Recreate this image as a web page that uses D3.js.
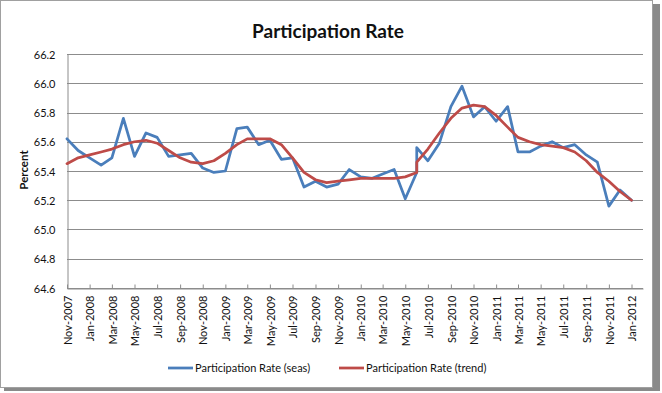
<!DOCTYPE html>
<html>
<head>
<meta charset="utf-8">
<script src="https://cdn.jsdelivr.net/npm/d3@7"></script>
<style>
  body { margin: 0; background: #fff; }
  text { font-family: Lato, "Open Sans", sans-serif; fill: #111; }
</style>
</head>
<body>
<svg width="662" height="393"></svg>
<script>
// months, Jun-2010 appears twice (series break)
var months = [
  "Nov-2007","Dec-2007","Jan-2008","Feb-2008","Mar-2008","Apr-2008","May-2008","Jun-2008",
  "Jul-2008","Aug-2008","Sep-2008","Oct-2008","Nov-2008","Dec-2008","Jan-2009","Feb-2009",
  "Mar-2009","Apr-2009","May-2009","Jun-2009","Jul-2009","Aug-2009","Sep-2009","Oct-2009",
  "Nov-2009","Dec-2009","Jan-2010","Feb-2010","Mar-2010","Apr-2010","May-2010","Jun-2010",
  "Jun-2010","Jul-2010","Aug-2010","Sep-2010","Oct-2010","Nov-2010","Dec-2010","Jan-2011",
  "Feb-2011","Mar-2011","Apr-2011","May-2011","Jun-2011","Jul-2011","Aug-2011","Sep-2011",
  "Oct-2011","Nov-2011","Dec-2011","Jan-2012"
];
var seas = [
  65.62, 65.54, 65.49, 65.44, 65.49, 65.76, 65.50, 65.66,
  65.63, 65.50, 65.51, 65.52, 65.42, 65.39, 65.40, 65.69,
  65.70, 65.58, 65.61, 65.48, 65.49, 65.29, 65.33, 65.29,
  65.31, 65.41, 65.36, 65.35, 65.38, 65.41, 65.21, 65.39,
  65.56, 65.47, 65.59, 65.84, 65.98, 65.77, 65.84, 65.74,
  65.84, 65.53, 65.53, 65.57, 65.60, 65.56, 65.58, 65.51,
  65.46, 65.16, 65.27, 65.20
];
var trend = [
  65.45, 65.49, 65.51, 65.53, 65.55, 65.58, 65.60, 65.61,
  65.59, 65.54, 65.49, 65.46, 65.45, 65.47, 65.52, 65.58,
  65.62, 65.62, 65.62, 65.58, 65.49, 65.39, 65.34, 65.32,
  65.33, 65.34, 65.35, 65.35, 65.35, 65.35, 65.36, 65.39,
  65.46, 65.55, 65.66, 65.76, 65.83, 65.85, 65.84, 65.78,
  65.70, 65.63, 65.60, 65.58, 65.57, 65.56, 65.53, 65.47,
  65.39, 65.33, 65.26, 65.20
];
var yTicks = [64.6, 64.8, 65.0, 65.2, 65.4, 65.6, 65.8, 66.0, 66.2];
var seriesNames = ["Participation Rate (seas)", "Participation Rate (trend)"];
var colors = ["#4a7ebb", "#be4b48"];

var width = 662, height = 393;
var margin = { left: 67, right: 19, top: 54, bottom: 105 };

var parse = d3.timeParse("%b-%Y");
var dates = months.map(parse);

var svg = d3.select("svg");

// outer frame with shadow
svg.append("rect").attr("x", 4).attr("y", 4).attr("width", 656).attr("height", 387)
  .attr("fill", "#8a8a8a");
svg.append("rect").attr("x", 0.5).attr("y", 0.5).attr("width", 652).attr("height", 387)
  .attr("fill", "#fff").attr("stroke", "#a0a0a0");

var xScale = d3.scaleTime()
  .domain([new Date(2007, 10, 1), new Date(2012, 1, 1)])
  .range([margin.left, width - margin.right]);

var yScale = d3.scaleLinear()
  .domain([64.6, 66.2])
  .range([height - margin.bottom, margin.top]);

// gridlines
svg.append("g").selectAll("line")
  .data(yTicks)
  .enter().append("line")
  .attr("x1", margin.left).attr("x2", width - margin.right)
  .attr("y1", function(d) { return Math.round(yScale(d)) + 0.5; })
  .attr("y2", function(d) { return Math.round(yScale(d)) + 0.5; })
  .attr("stroke", "#8c8c8c");

// y axis
var yAxis = d3.axisLeft(yScale).tickValues(yTicks).tickFormat(d3.format(".1f")).tickSize(0).tickPadding(12);
var gy = svg.append("g")
  .attr("transform", "translate(" + (margin.left + 0.5) + ",0.5)")
  .call(yAxis);
gy.select(".domain").attr("stroke", "#8c8c8c");
gy.selectAll("text").style("font-size", "11px");

svg.append("text")
  .attr("transform", "rotate(-90)")
  .attr("x", -170)
  .attr("y", 28)
  .attr("text-anchor", "middle")
  .style("font-size", "11.5px")
  .style("font-weight", "bold")
  .text("Percent");

// x axis
var xAxis = d3.axisBottom(xScale)
  .ticks(d3.timeMonth.every(2))
  .tickFormat(d3.timeFormat("%b-%Y"))
  .tickSizeInner(-4).tickSizeOuter(0);
var gx = svg.append("g")
  .attr("transform", "translate(0," + (height - margin.bottom + 0.5) + ")")
  .call(xAxis);
gx.select(".domain").attr("stroke", "#8c8c8c");
gx.selectAll(".tick line").attr("stroke", "#8c8c8c");
gx.selectAll("text")
  .style("font-size", "11px")
  .attr("text-anchor", "end")
  .attr("transform", "rotate(-90)")
  .attr("x", -7)
  .attr("y", 0)
  .attr("dy", "0.38em");

// lines
var seriesData = [seas, trend];
seriesData.forEach(function(vals, k) {
  var line = d3.line()
    .x(function(d, i) { return xScale(dates[i]); })
    .y(function(d) { return yScale(d); });
  svg.append("path")
    .datum(vals)
    .attr("d", line)
    .attr("fill", "none")
    .attr("stroke", colors[k])
    .attr("stroke-width", 2.75)
    .attr("stroke-linejoin", "round")
    .attr("stroke-linecap", "round");
});

// title
svg.append("text")
  .attr("x", 328)
  .attr("y", 38)
  .attr("text-anchor", "middle")
  .style("font-size", "19px")
  .style("font-weight", "bold")
  .text("Participation Rate");

// legend
var legendX = [168, 339];
var legend = svg.append("g").selectAll("g")
  .data(seriesNames)
  .enter().append("g")
  .attr("transform", function(d, i) { return "translate(" + legendX[i] + ",368)"; });
legend.append("line")
  .attr("x1", 0).attr("x2", 25)
  .attr("stroke", function(d, i) { return colors[i]; })
  .attr("stroke-width", 2.75);
legend.append("text")
  .attr("x", 27)
  .attr("dy", "0.35em")
  .style("font-size", "11px")
  .text(function(d) { return d; });
</script>
</body>
</html>
